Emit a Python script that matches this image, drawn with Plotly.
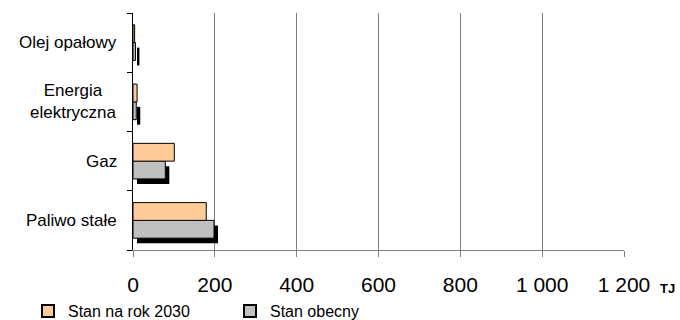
import plotly.graph_objects as go

# Energy use by fuel type, TJ (bottom-to-top category order)
categories = ["Paliwo stałe", "Gaz", "Energia<br>elektryczna", "Olej opałowy"]
stan_2030 = [179, 101, 10, 4]
stan_obecny = [198, 79, 8, 6]

x_tick_values = [0, 200, 400, 600, 800, 1000, 1200]
x_tick_labels = ["0", "200", "400", "600", "800", "1 000", "1 200"]

FONT = "Liberation Sans, Arial, sans-serif"
W, H = 680, 320
ML, MR, MT, MB = 133, 56, 13, 70
PW, PH = W - ML - MR, H - MT - MB
XMAX = 1200
BAR_W = 0.3
SH_DX, SH_DY = 4, 5  # drop-shadow offset in px

cat_px = PH / len(categories)

fig = go.Figure()

# drop shadow under the "Stan obecny" bars: same values on an axis pair shifted by a few px
fig.add_trace(go.Bar(
    y=categories, x=stan_obecny, orientation="h",
    xaxis="x2", yaxis="y2",
    width=BAR_W, offset=-BAR_W,
    marker=dict(color="black", line=dict(width=0)),
    showlegend=False, hoverinfo="skip",
))

fig.add_trace(go.Bar(
    y=categories, x=stan_obecny, orientation="h",
    xaxis="x3", yaxis="y3",
    name="Stan obecny", legendrank=2,
    width=BAR_W, offset=-BAR_W,
    marker=dict(color="#C0C0C0", line=dict(color="black", width=1)),
))
fig.add_trace(go.Bar(
    y=categories, x=stan_2030, orientation="h",
    xaxis="x3", yaxis="y3",
    name="Stan na rok 2030", legendrank=1,
    width=BAR_W, offset=0,
    marker=dict(color="#FFCC99", line=dict(color="black", width=1)),
))

# category labels, centred line by line
for c in categories:
    fig.add_annotation(
        x=0, xref="paper", y=c, yref="y", xanchor="right", yanchor="middle",
        xshift=-14, text=c, showarrow=False, align="center",
        font=dict(family=FONT, size=17, color="black"),
    )

fig.add_annotation(
    x=(667 - ML) / PW, xref="paper", y=-38 / PH, yref="paper",
    xanchor="center", yanchor="middle", text="<b>TJ</b>", showarrow=False,
    font=dict(family=FONT, size=13, color="black"),
)

y_range = [-0.5, len(categories) - 0.5]
fig.update_layout(
    width=W, height=H,
    margin=dict(l=ML, r=MR, t=MT, b=MB, autoexpand=False),
    paper_bgcolor="white", plot_bgcolor="rgba(0,0,0,0)",
    barmode="overlay",
    font=dict(family=FONT, color="black"),
    showlegend=True,
    legend=dict(
        orientation="h", x=(28 - ML) / PW, xanchor="left",
        y=(250 - 311) / PH, yanchor="middle",
        font=dict(family=FONT, size=16, color="black"),
        entrywidth=157, entrywidthmode="pixels",
        itemsizing="constant", bgcolor="rgba(0,0,0,0)",
    ),
    # main axes: grid, ticks and labels
    xaxis=dict(
        domain=[0, 1], range=[0, XMAX], tickvals=x_tick_values, ticktext=x_tick_labels,
        showgrid=True, gridcolor="#808080", gridwidth=1, zeroline=False,
        showline=True, linecolor="#808080", linewidth=1,
        ticks="outside", ticklen=6, tickcolor="#808080",
        ticklabelstandoff=10,
        tickfont=dict(family=FONT, size=21, color="black"),
        fixedrange=True,
    ),
    yaxis=dict(
        domain=[0, 1], type="category", categoryorder="array", categoryarray=categories,
        range=y_range, showticklabels=False, tickson="boundaries",
        ticks="outside", ticklen=5, tickcolor="black",
        showline=True, linecolor="black", linewidth=1, showgrid=False,
        fixedrange=True,
    ),
    # shadow axes, shifted right and down
    xaxis2=dict(
        domain=[SH_DX / PW, 1], range=[0, XMAX * (PW - SH_DX) / PW], anchor="y2",
        visible=False, fixedrange=True,
    ),
    yaxis2=dict(
        domain=[0, 1 - SH_DY / PH], type="category", categoryorder="array",
        categoryarray=categories,
        range=[y_range[0] + SH_DY / cat_px, y_range[1]], anchor="x2",
        visible=False, fixedrange=True,
    ),
    # bar axes, aligned with the main axes
    xaxis3=dict(domain=[0, 1], range=[0, XMAX], anchor="y3", visible=False, fixedrange=True),
    yaxis3=dict(
        domain=[0, 1], type="category", categoryorder="array", categoryarray=categories,
        range=y_range, anchor="x3", visible=False, fixedrange=True,
    ),
)

fig.write_html("out.html")
